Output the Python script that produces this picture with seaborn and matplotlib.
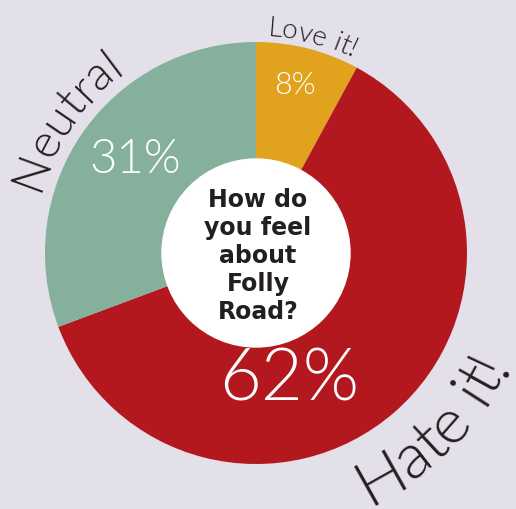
import numpy as np
import matplotlib
matplotlib.use("Agg")
import matplotlib.pyplot as plt
import seaborn as sns
from matplotlib.font_manager import FontProperties
from matplotlib.textpath import TextToPath

# data
labels = ["Love it!", "Hate it!", "Neutral"]
values = [8, 62, 31]
pct_text = ["8%", "62%", "31%"]
colors = ["#E1A31D", "#B3181E", "#85B09C"]
question = "How do\nyou feel\nabout\nFolly\nRoad?"

bg = "#E3E0EA"
ink = "#231F20"
THIN = 300

sns.set_theme(style="white")
plt.rcParams["font.family"] = ["Lato", "DejaVu Sans"]

DPI = 100
fig = plt.figure(figsize=(5.16, 5.10), dpi=DPI, facecolor=bg)
ax = fig.add_axes([0, 0, 1, 1])
ax.set_facecolor(bg)

cx, cy = 256, 256
R = 211
r_in = 94

ax.pie(values, colors=colors, startangle=90, counterclock=False,
       center=(cx, cy), radius=R, frame=True,
       wedgeprops=dict(linewidth=0))
ax.set_xlim(0, 516)
ax.set_ylim(0, 510)
ax.set_aspect("equal")
ax.axis("off")
ax.add_patch(plt.Circle((cx, cy), r_in, color="white", zorder=3))

# percentage labels (positions in px, y up)
pct_pos = [(295, 425), (289, 130), (135, 350)]
pct_size = [22, 52, 34]
for t, (x, y), s in zip(pct_text, pct_pos, pct_size):
    ax.text(x, y, t, color="white", fontsize=s, fontweight=THIN,
            ha="center", va="center", zorder=4)

ax.text(cx + 2, cy - 2, question, color=ink, fontsize=17, fontweight="bold",
        family="DejaVu Sans", ha="center", va="center", linespacing=1.2,
        zorder=5)

t2p = TextToPath()


def char_widths(text, size, weight):
    fp = FontProperties(family="Lato", weight=weight, size=size)
    sc = DPI / 72.0
    w_ab = t2p.get_text_width_height_descent("ab", fp, ismath=False)[0]
    w_sp = t2p.get_text_width_height_descent("a b", fp, ismath=False)[0] - w_ab
    out = []
    for ch in text:
        if ch == " ":
            out.append(w_sp * sc)
        else:
            out.append(t2p.get_text_width_height_descent(ch, fp, ismath=False)[0] * sc)
    return out


def curved_text(text, radius, mid_deg, size, outward=True, weight=THIN):
    ws = char_widths(text, size, weight)
    span = sum(ws) / radius
    mid = np.radians(mid_deg)
    cum = 0.0
    for ch, w in zip(text, ws):
        if outward:
            a = mid + span / 2 - (cum + w / 2) / radius
            rot = np.degrees(a) - 90
        else:
            a = mid - span / 2 + (cum + w / 2) / radius
            rot = np.degrees(a) + 90
        cum += w
        if ch == " ":
            continue
        ax.text(cx + radius * np.cos(a), cy + radius * np.sin(a), ch,
                fontsize=size, fontweight=weight, color=ink,
                rotation=rot, rotation_mode="anchor",
                ha="center", va="baseline", zorder=6)


curved_text(labels[0], 218, 75.5, 20, outward=True)
curved_text(labels[2], 225, 145, 34, outward=True)
curved_text(labels[1], 275, -44.5, 46, outward=False)

fig.savefig("out.png", dpi=DPI, facecolor=bg)
